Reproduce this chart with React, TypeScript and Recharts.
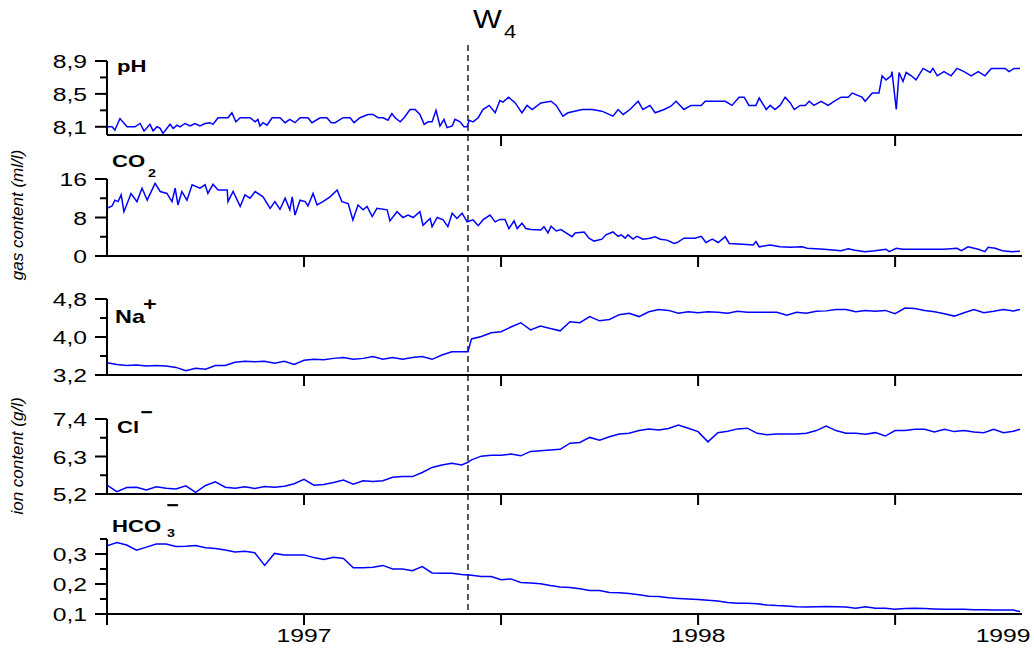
import React from 'react';
import { LineChart, Line, XAxis, YAxis, ReferenceLine } from 'recharts';

const FONT = '"Liberation Sans", Arial, Helvetica, sans-serif';
const STRETCH = 1.3;
const BLUE = '#0000ff';

// ---- pH (own sampling dates, fractional years) ----
const PH_TIMES = [
  1996.500, 1996.513, 1996.520, 1996.533, 1996.551, 1996.571, 1996.584, 1996.594, 1996.609, 1996.617,
  1996.627, 1996.635, 1996.642, 1996.660, 1996.668, 1996.678, 1996.685, 1996.698, 1996.711, 1996.723,
  1996.736, 1996.749, 1996.761, 1996.769, 1996.782, 1996.807, 1996.817, 1996.827, 1996.838, 1996.863,
  1996.876, 1996.883, 1996.888, 1996.896, 1996.906, 1996.919, 1996.939, 1996.952, 1996.964, 1996.977,
  1996.990, 1997.010, 1997.020, 1997.041, 1997.058, 1997.069, 1997.079, 1997.099, 1997.117, 1997.127,
  1997.142, 1997.162, 1997.175, 1997.188, 1997.201, 1997.213, 1997.223, 1997.231, 1997.244, 1997.254,
  1997.269, 1997.282, 1997.294, 1997.305, 1997.315, 1997.325, 1997.335, 1997.345, 1997.355, 1997.363,
  1997.376, 1997.383, 1997.396, 1997.406, 1997.414, 1997.419, 1997.429, 1997.442, 1997.454, 1997.470,
  1997.485, 1997.497, 1997.505, 1997.519, 1997.536, 1997.553, 1997.566, 1997.579, 1997.601, 1997.627,
  1997.640, 1997.657, 1997.670, 1997.706, 1997.731, 1997.756, 1997.784, 1997.797, 1997.810, 1997.827,
  1997.848, 1997.860, 1997.878, 1997.891, 1997.914, 1997.931, 1997.944, 1997.964, 1997.982, 1998.008,
  1998.018, 1998.036, 1998.069, 1998.086, 1998.104, 1998.117, 1998.129, 1998.147, 1998.155, 1998.173,
  1998.183, 1998.195, 1998.208, 1998.221, 1998.234, 1998.244, 1998.259, 1998.272, 1998.282, 1998.294,
  1998.312, 1998.330, 1998.345, 1998.363, 1998.381, 1998.391, 1998.416, 1998.424, 1998.442, 1998.459,
  1998.467, 1998.477, 1998.490, 1998.492, 1998.503, 1998.510, 1998.520, 1998.528, 1998.541, 1998.553,
  1998.571, 1998.589, 1998.596, 1998.607, 1998.624, 1998.642, 1998.657, 1998.675, 1998.693, 1998.711,
  1998.728, 1998.744, 1998.779, 1998.789, 1998.802, 1998.817,
];
const PH = [
  8.10, 8.10, 8.06, 8.20, 8.10, 8.10, 8.14, 8.05, 8.13, 8.05,
  8.10, 8.08, 8.02, 8.13, 8.08, 8.12, 8.10, 8.14, 8.11, 8.14,
  8.11, 8.14, 8.15, 8.13, 8.21, 8.21, 8.27, 8.16, 8.21, 8.21,
  8.16, 8.19, 8.11, 8.15, 8.12, 8.21, 8.21, 8.15, 8.19, 8.15,
  8.21, 8.21, 8.15, 8.21, 8.21, 8.15, 8.15, 8.21, 8.21, 8.15,
  8.21, 8.25, 8.25, 8.21, 8.21, 8.18, 8.26, 8.21, 8.16, 8.21,
  8.31, 8.31, 8.25, 8.13, 8.16, 8.16, 8.30, 8.11, 8.19, 8.09,
  8.11, 8.19, 8.16, 8.10, 8.10, 8.18, 8.16, 8.21, 8.31, 8.36,
  8.27, 8.42, 8.40, 8.46, 8.39, 8.27, 8.36, 8.31, 8.39, 8.41,
  8.36, 8.23, 8.27, 8.31, 8.31, 8.29, 8.23, 8.31, 8.25, 8.31,
  8.41, 8.31, 8.36, 8.27, 8.31, 8.35, 8.41, 8.31, 8.36, 8.36,
  8.41, 8.41, 8.41, 8.36, 8.46, 8.46, 8.36, 8.36, 8.45, 8.31,
  8.36, 8.31, 8.36, 8.46, 8.39, 8.31, 8.36, 8.36, 8.41, 8.36,
  8.41, 8.36, 8.41, 8.46, 8.46, 8.51, 8.46, 8.41, 8.51, 8.51,
  8.72, 8.67, 8.72, 8.77, 8.31, 8.76, 8.65, 8.76, 8.72, 8.67,
  8.81, 8.76, 8.81, 8.72, 8.77, 8.72, 8.81, 8.77, 8.72, 8.77,
  8.72, 8.81, 8.81, 8.77, 8.81, 8.81,
];

// ---- CO2 (own sampling dates) ----
const CO2_TIMES = [
  1996.500, 1996.513, 1996.520, 1996.528, 1996.536, 1996.543, 1996.561, 1996.576, 1996.589, 1996.602,
  1996.622, 1996.635, 1996.652, 1996.665, 1996.673, 1996.680, 1996.690, 1996.703, 1996.716, 1996.736,
  1996.749, 1996.756, 1996.769, 1996.782, 1996.805, 1996.807, 1996.820, 1996.838, 1996.850, 1996.863,
  1996.876, 1996.896, 1996.914, 1996.926, 1996.939, 1996.952, 1996.964, 1996.970, 1996.977, 1996.990,
  1997.003, 1997.010, 1997.023, 1997.033, 1997.048, 1997.066, 1997.084, 1997.096, 1997.112, 1997.124,
  1997.137, 1997.150, 1997.160, 1997.173, 1997.185, 1997.211, 1997.218, 1997.236, 1997.251, 1997.264,
  1997.277, 1997.294, 1997.302, 1997.320, 1997.325, 1997.338, 1997.353, 1997.365, 1997.376, 1997.388,
  1997.401, 1997.414, 1997.429, 1997.442, 1997.454, 1997.472, 1997.485, 1997.497, 1997.510, 1997.520,
  1997.533, 1997.541, 1997.553, 1997.563, 1997.576, 1997.601, 1997.609, 1997.619, 1997.627, 1997.640,
  1997.652, 1997.680, 1997.688, 1997.711, 1997.723, 1997.736, 1997.756, 1997.766, 1997.784, 1997.797,
  1997.805, 1997.815, 1997.822, 1997.835, 1997.845, 1997.860, 1997.878, 1997.891, 1997.904, 1997.921,
  1997.939, 1997.947, 1997.964, 1997.992, 1998.008, 1998.020, 1998.036, 1998.051, 1998.069, 1998.079,
  1998.104, 1998.140, 1998.147, 1998.155, 1998.183, 1998.208, 1998.234, 1998.264, 1998.277, 1998.320,
  1998.363, 1998.381, 1998.398, 1998.424, 1998.449, 1998.477, 1998.485, 1998.503, 1998.520, 1998.538,
  1998.624, 1998.657, 1998.668, 1998.685, 1998.711, 1998.728, 1998.736, 1998.754, 1998.772, 1998.797,
  1998.817,
];
const CO2 = [
  9.9, 10.4, 11.6, 11.3, 12.7, 9.2, 13.0, 11.3, 14.1, 11.6,
  15.1, 13.4, 13.0, 11.3, 14.1, 10.6, 13.4, 11.6, 14.8, 14.1,
  14.8, 13.0, 14.9, 13.7, 13.7, 11.3, 13.4, 10.3, 12.7, 12.0,
  13.4, 12.3, 9.9, 11.3, 9.7, 12.0, 9.6, 12.3, 8.5, 11.6,
  11.3, 10.4, 13.0, 10.6, 11.3, 12.3, 13.7, 11.3, 10.9, 7.5,
  10.6, 9.6, 10.3, 8.2, 9.9, 9.6, 7.3, 9.2, 8.0, 8.5,
  8.0, 9.2, 6.4, 7.8, 6.1, 8.0, 7.5, 6.1, 8.9, 7.8,
  8.9, 7.1, 7.5, 6.3, 7.5, 8.5, 7.1, 7.6, 7.6, 5.7,
  7.3, 5.7, 6.8, 5.7, 5.5, 5.4, 6.1, 4.8, 6.2, 5.2,
  5.5, 4.0, 4.8, 5.0, 3.7, 3.1, 3.5, 4.4, 5.0, 4.1,
  4.4, 3.7, 4.4, 3.5, 4.1, 3.5, 3.7, 4.0, 3.5, 3.3,
  2.6, 2.8, 3.7, 3.7, 4.1, 2.8, 3.5, 2.8, 4.0, 2.6,
  2.5, 2.3, 3.0, 1.9, 2.3, 1.9, 1.8, 1.9, 1.6, 1.4,
  1.1, 1.5, 1.2, 0.9, 1.1, 1.4, 0.9, 1.6, 1.4, 1.4,
  1.4, 1.6, 1.1, 1.9, 1.4, 0.9, 1.8, 1.6, 1.1, 0.9,
  1.0,
];

// ---- shared sampling dates for the ions ----
const TIMES = [
  1996.5, 1996.525, 1996.55, 1996.575, 1996.6, 1996.625, 1996.65, 1996.675, 1996.7, 1996.725,
  1996.75, 1996.775, 1996.8, 1996.825, 1996.85, 1996.875, 1996.9, 1996.925, 1996.95, 1996.975,
  1997.0, 1997.025, 1997.05, 1997.075, 1997.1, 1997.125, 1997.15, 1997.175, 1997.2, 1997.225,
  1997.25, 1997.275, 1997.3, 1997.325, 1997.35, 1997.375, 1997.4, 1997.416,
  1997.425, 1997.45, 1997.475,
  1997.5, 1997.525, 1997.55, 1997.575, 1997.6, 1997.625, 1997.65, 1997.675, 1997.7, 1997.725,
  1997.75, 1997.775, 1997.8, 1997.825, 1997.85, 1997.875, 1997.9, 1997.925, 1997.95, 1997.975,
  1998.0, 1998.025, 1998.05, 1998.075, 1998.1, 1998.125, 1998.15, 1998.175, 1998.2, 1998.225,
  1998.25, 1998.275, 1998.3, 1998.325, 1998.35, 1998.375, 1998.4, 1998.425, 1998.45, 1998.475,
  1998.5, 1998.525, 1998.55, 1998.575, 1998.6, 1998.625, 1998.65, 1998.675, 1998.7, 1998.725,
  1998.75, 1998.775, 1998.8, 1998.817,
];

const NA = [
  3.46, 3.42, 3.40, 3.41, 3.39, 3.40, 3.39, 3.36, 3.29, 3.34,
  3.32, 3.40, 3.40, 3.47, 3.49, 3.48, 3.49, 3.45, 3.49, 3.42,
  3.51, 3.53, 3.52, 3.55, 3.57, 3.53, 3.55, 3.59, 3.53, 3.57,
  3.53, 3.57, 3.59, 3.53, 3.62, 3.69, 3.69, 3.69,
  3.96, 4.01, 4.09,
  4.11, 4.21, 4.30, 4.15, 4.23, 4.18, 4.13, 4.32, 4.30, 4.43,
  4.34, 4.37, 4.47, 4.50, 4.43, 4.53, 4.58, 4.56, 4.50, 4.53,
  4.51, 4.53, 4.52, 4.50, 4.54, 4.52, 4.52, 4.52, 4.52, 4.46,
  4.52, 4.50, 4.54, 4.55, 4.58, 4.58, 4.53, 4.56, 4.54, 4.56,
  4.49, 4.61, 4.60, 4.56, 4.53, 4.49, 4.44, 4.51, 4.58, 4.51,
  4.54, 4.58, 4.55, 4.58,
];

const CL = [
  5.46, 5.27, 5.39, 5.40, 5.32, 5.41, 5.37, 5.35, 5.44, 5.25,
  5.45, 5.56, 5.40, 5.37, 5.41, 5.36, 5.42, 5.40, 5.43, 5.50,
  5.63, 5.46, 5.48, 5.54, 5.61, 5.49, 5.59, 5.57, 5.59, 5.69,
  5.71, 5.71, 5.83, 5.98, 6.05, 6.10, 6.05, 6.13,
  6.20, 6.31, 6.34,
  6.34, 6.37, 6.32, 6.45, 6.47, 6.49, 6.51, 6.69, 6.71, 6.86,
  6.78, 6.88, 6.96, 6.98, 7.06, 7.11, 7.08, 7.12, 7.22, 7.13,
  7.03, 6.73, 7.00, 7.04, 7.11, 7.13, 6.98, 6.94, 6.96, 6.96,
  6.96, 6.98, 7.06, 7.19, 7.06, 6.98, 6.98, 6.95, 7.00, 6.90,
  7.06, 7.06, 7.10, 7.10, 7.02, 7.10, 7.03, 7.06, 7.02, 7.00,
  7.10, 7.00, 7.04, 7.10,
];

const HCO3 = [
  0.327, 0.338, 0.330, 0.313, 0.323, 0.333, 0.333, 0.325, 0.326, 0.328,
  0.321, 0.318, 0.313, 0.307, 0.309, 0.304, 0.262, 0.302, 0.297, 0.297,
  0.297, 0.288, 0.282, 0.289, 0.285, 0.254, 0.254, 0.256, 0.262, 0.250,
  0.250, 0.244, 0.258, 0.237, 0.236, 0.236, 0.232, 0.230,
  0.229, 0.225, 0.225,
  0.214, 0.217, 0.205, 0.203, 0.201, 0.195, 0.190, 0.188, 0.184, 0.178,
  0.178, 0.172, 0.171, 0.168, 0.164, 0.159, 0.158, 0.154, 0.152, 0.150,
  0.148, 0.146, 0.143, 0.138, 0.136, 0.136, 0.134, 0.130, 0.128, 0.127,
  0.124, 0.123, 0.124, 0.125, 0.124, 0.123, 0.119, 0.124, 0.119, 0.119,
  0.116, 0.118, 0.119, 0.118, 0.117, 0.116, 0.116, 0.116, 0.114, 0.114,
  0.113, 0.113, 0.113, 0.108,
];

// ---- axis ticks & labels ----
const X_DOMAIN = [1996.5, 1998.822];
const W4_DATE = 1997.416;
const X_MARKS_TOP = [1997.5, 1998.5];
const X_MARKS_MID = [1997, 1997.5, 1998, 1998.5];
const X_MARKS_BOTTOM = [1996.5, 1997, 1997.5, 1998, 1998.5];
const X_LABEL_VALUES = [1997, 1998, 1998.774];
const X_LABEL_TEXTS = ['1997', '1998', '1999'];

const PH_TICKS = [8.1, 8.3, 8.5, 8.7, 8.9];
const PH_LABELS = ['8,1', '', '8,5', '', '8,9'];
const CO2_TICKS = [0, 4, 8, 12, 16];
const CO2_LABELS = ['0', '', '8', '', '16'];
const NA_TICKS = [3.2, 3.6, 4.0, 4.4, 4.8];
const NA_LABELS = ['3,2', '', '4,0', '', '4,8'];
const CL_TICKS = [5.2, 5.75, 6.3, 6.85, 7.4];
const CL_LABELS = ['5,2', '', '6,3', '', '7,4'];
const HCO3_TICKS = [0.1, 0.15, 0.2, 0.25, 0.3, 0.35];
const HCO3_LABELS = ['0,1', '', '0,2', '', '0,3', ''];

const toRows = (times: number[], vals: number[]) => times.map((t, i) => ({ t, v: vals[i] }));

const CHART_W = 1034;

const near = (a: number, b: number) => Math.abs(a - b) < 1e-6;

function makeYTick(ticks: number[], labels: string[]) {
  return (props: any) => {
    const { x, y, payload } = props;
    const i = ticks.findIndex((v) => near(v, payload.value));
    const label = i >= 0 ? labels[i] : '';
    const major = label !== '';
    return (
      <g>
        <line x1={x} x2={x - (major ? 12 : 7)} y1={y} y2={y} stroke="#000" strokeWidth={2} />
        {major ? (
          <text
            transform={`translate(${x - 20},${y + 7}) scale(${STRETCH},1)`}
            textAnchor="end"
            fontFamily={FONT}
            fontSize={19}
            fill="#000"
          >
            {label}
          </text>
        ) : null}
      </g>
    );
  };
}

function makeXTick(marks: number[], withLabels: boolean) {
  return (props: any) => {
    const { x, y, payload } = props;
    const v = payload.value;
    const hasMark = marks.some((m) => near(m, v));
    const li = withLabels ? X_LABEL_VALUES.findIndex((m) => near(m, v)) : -1;
    return (
      <g>
        {hasMark ? <line x1={x} x2={x} y1={y} y2={y + 11} stroke="#000" strokeWidth={2} /> : null}
        {li >= 0 ? (
          <text
            transform={`translate(${x},${y + 28}) scale(${STRETCH},1)`}
            textAnchor="middle"
            fontFamily={FONT}
            fontSize={19}
            fill="#000"
          >
            {X_LABEL_TEXTS[li]}
          </text>
        ) : null}
      </g>
    );
  };
}

function dashShape(ext: number) {
  return (p: any) => {
    const top = Math.min(Number(p.y1), Number(p.y2)) - ext;
    const bot = Math.max(Number(p.y1), Number(p.y2));
    return (
      <line x1={p.x1} x2={p.x2} y1={top} y2={bot} stroke="#000" strokeWidth={1.3} strokeDasharray="6 4" />
    );
  };
}

type PanelCfg = {
  key: string;
  rows: { t: number; v: number }[];
  yDomain: number[];
  yTicks: number[];
  yLabels: string[];
  xMarks: number[];
  xLabels: boolean;
  svgTop: number;
  plotTop: number;
  plotBottom: number;
  axisH: number;
  ext: number;
};

const PANELS: PanelCfg[] = [
  { key: 'ph', rows: toRows(PH_TIMES, PH), yDomain: [8.0, 8.9], yTicks: PH_TICKS, yLabels: PH_LABELS, xMarks: X_MARKS_TOP, xLabels: false, svgTop: 0, plotTop: 61, plotBottom: 135, axisH: 14, ext: 16 },
  { key: 'co2', rows: toRows(CO2_TIMES, CO2), yDomain: [0, 16], yTicks: CO2_TICKS, yLabels: CO2_LABELS, xMarks: X_MARKS_MID, xLabels: false, svgTop: 135, plotTop: 179, plotBottom: 256, axisH: 14, ext: 44 },
  { key: 'na', rows: toRows(TIMES, NA), yDomain: [3.2, 4.8], yTicks: NA_TICKS, yLabels: NA_LABELS, xMarks: X_MARKS_MID, xLabels: false, svgTop: 256, plotTop: 299, plotBottom: 375, axisH: 14, ext: 43 },
  { key: 'cl', rows: toRows(TIMES, CL), yDomain: [5.2, 7.4], yTicks: CL_TICKS, yLabels: CL_LABELS, xMarks: X_MARKS_MID, xLabels: false, svgTop: 375, plotTop: 419, plotBottom: 494, axisH: 14, ext: 44 },
  { key: 'hco3', rows: toRows(TIMES, HCO3), yDomain: [0.1, 0.35], yTicks: HCO3_TICKS, yLabels: HCO3_LABELS, xMarks: X_MARKS_BOTTOM, xLabels: true, svgTop: 494, plotTop: 539, plotBottom: 614, axisH: 34, ext: 45 },
];

function Panel({ cfg }: { cfg: PanelCfg }) {
  const h = cfg.plotBottom + cfg.axisH - cfg.svgTop;
  const xTicks = cfg.xLabels
    ? [...cfg.xMarks, ...X_LABEL_VALUES.filter((v) => !cfg.xMarks.some((m) => near(m, v)))]
    : cfg.xMarks;
  return (
    <div style={{ position: 'absolute', left: 0, top: cfg.svgTop, width: CHART_W, height: h }}>
      <LineChart
        width={CHART_W}
        height={h}
        data={cfg.rows}
        margin={{ top: cfg.plotTop - cfg.svgTop, right: 12, bottom: 0, left: 0 }}
      >
        <XAxis
          dataKey="t"
          type="number"
          domain={X_DOMAIN}
          allowDataOverflow
          ticks={xTicks}
          interval={0}
          tickLine={false}
          tickSize={0}
          tickMargin={0}
          tick={makeXTick(cfg.xMarks, cfg.xLabels)}
          axisLine={{ stroke: '#000', strokeWidth: 2 }}
          height={cfg.axisH}
        />
        <YAxis
          type="number"
          domain={cfg.yDomain}
          allowDataOverflow
          ticks={cfg.yTicks}
          interval={0}
          tickLine={false}
          tickSize={0}
          tickMargin={0}
          tick={makeYTick(cfg.yTicks, cfg.yLabels)}
          axisLine={{ stroke: '#000', strokeWidth: 2 }}
          width={107}
        />
        <ReferenceLine x={W4_DATE} shape={dashShape(cfg.ext)} />
        <Line
          dataKey="v"
          type="linear"
          stroke={BLUE}
          strokeWidth={1.5}
          dot={false}
          activeDot={false}
          isAnimationActive={false}
        />
      </LineChart>
    </div>
  );
}

function T(props: { x: number; y: number; size: number; bold?: boolean; children: React.ReactNode; stroke?: boolean }) {
  return (
    <text
      transform={`translate(${props.x},${props.y}) scale(${STRETCH},1)`}
      fontFamily={FONT}
      fontSize={props.size}
      fontWeight={props.bold ? 'bold' : 'normal'}
      fill="#000"
      stroke={props.stroke ? '#000' : undefined}
      strokeWidth={props.stroke ? 0.6 : undefined}
    >
      {props.children}
    </text>
  );
}

export default function App() {
  return (
    <div style={{ position: 'absolute', left: 0, top: 0, width: 1034, height: 648, background: '#fff', overflow: 'hidden' }}>
      {PANELS.map((p) => (
        <Panel key={p.key} cfg={p} />
      ))}
      <svg width={1034} height={648} style={{ position: 'absolute', left: 0, top: 0, pointerEvents: 'none' }}>
        <text transform="translate(473,28) scale(1.22,1)" fontFamily={FONT} fontSize={25} fill="#000">W</text>
        <text transform="translate(504,38) scale(1.22,1)" fontFamily={FONT} fontSize={18} fill="#000">4</text>

        <T x={117} y={72} size={17} bold>pH</T>

        <T x={112} y={167} size={17} bold>CO</T>
        <T x={148} y={177} size={11} bold>2</T>

        <T x={115} y={323} size={18} bold>Na</T>
        <T x={143} y={310} size={18} bold>+</T>

        <T x={117} y={433} size={17} bold>Cl</T>
        <T x={141} y={417} size={15} bold stroke>−</T>

        <T x={112} y={532} size={17} bold>HCO</T>
        <T x={167} y={537} size={11} bold>3</T>
        <T x={167} y={510} size={15} bold stroke>−</T>

        <text
          transform="translate(23,215) rotate(-90)"
          textAnchor="middle"
          fontFamily={FONT}
          fontStyle="italic"
          fontSize={17}
          fill="#000"
        >
          gas content (ml/l)
        </text>
        <text
          transform="translate(23,456) rotate(-90)"
          textAnchor="middle"
          fontFamily={FONT}
          fontStyle="italic"
          fontSize={17}
          fill="#000"
        >
          ion content (g/l)
        </text>
      </svg>
    </div>
  );
}
